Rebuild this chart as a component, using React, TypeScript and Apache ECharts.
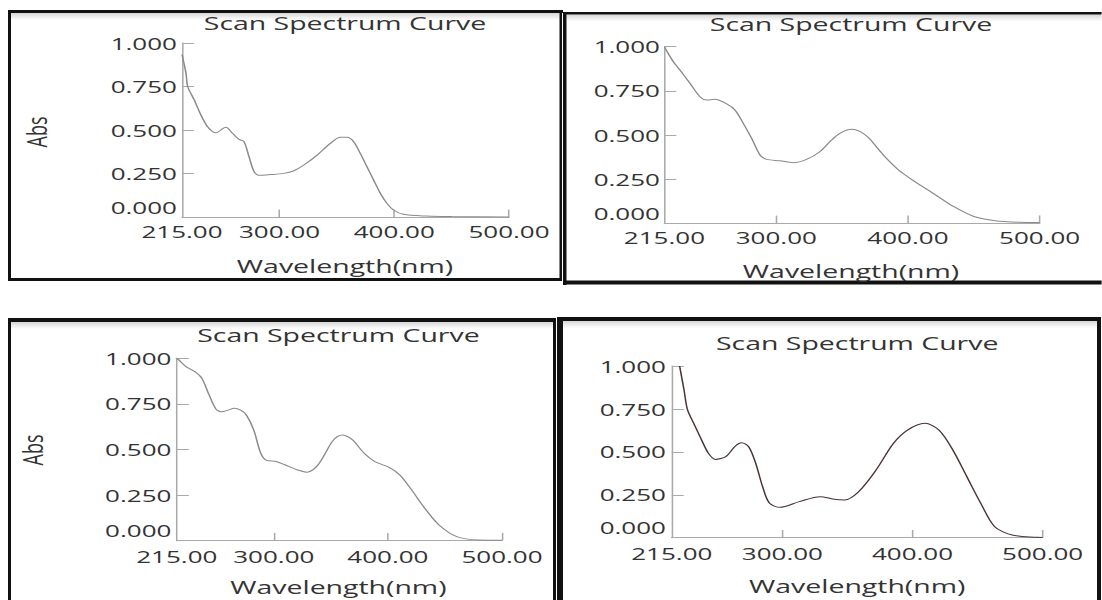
import React, { useEffect, useRef } from "react";
import * as echarts from "echarts";

// The whole figure is laid out in a narrower box and stretched horizontally.
const S = 1.53;
const W = 1102;
const H = 600;

// Sample 1: wavelength (nm) / absorbance
const wl1 = [215, 218.5, 220, 225.7, 231.5, 237.3, 244.5, 253.2, 259, 264.7, 269, 273.4, 277.8, 282, 292, 303.8, 312.5, 321.2, 332.8, 344.3, 353, 358.8, 364.6, 370.4, 376.2, 382, 387.8, 393.6, 399.3, 408, 428, 450, 500];
const abs1 = [0.935, 0.826, 0.749, 0.673, 0.587, 0.52, 0.485, 0.516, 0.482, 0.447, 0.434, 0.348, 0.262, 0.241, 0.245, 0.252, 0.267, 0.3, 0.357, 0.424, 0.459, 0.459, 0.434, 0.367, 0.29, 0.214, 0.138, 0.08, 0.042, 0.017, 0.007, 0.004, 0.002];

// Sample 2
const wl2 = [215, 218, 221.8, 226.8, 234.4, 242, 247.1, 253.4, 262.3, 268.6, 274.9, 281.3, 287.6, 292.7, 302.8, 312.9, 323, 333.1, 340.7, 348, 357.4, 363, 369.3, 376, 382.5, 392.9, 403.5, 419.2, 434.9, 450.7, 466.4, 484.8, 500];
const abs2 = [1.0, 0.96, 0.915, 0.868, 0.793, 0.717, 0.698, 0.702, 0.676, 0.642, 0.566, 0.481, 0.387, 0.362, 0.354, 0.343, 0.362, 0.405, 0.462, 0.508, 0.532, 0.522, 0.49, 0.434, 0.377, 0.302, 0.245, 0.17, 0.094, 0.037, 0.015, 0.006, 0.004];

// Sample 3
const wl3 = [215, 217, 223, 230.8, 237, 243.3, 249.5, 254.2, 260, 265.2, 271, 276, 282.4, 288.6, 293.3, 302.7, 313.6, 321, 329.2, 338.7, 351.1, 356, 360.5, 365.5, 369.9, 379.2, 388.6, 401.1, 410.4, 419.8, 432.3, 444.8, 460.4, 479.2, 500];
const abs3 = [1.0, 0.99, 0.954, 0.927, 0.89, 0.799, 0.72, 0.707, 0.716, 0.726, 0.716, 0.689, 0.607, 0.479, 0.442, 0.433, 0.406, 0.388, 0.375, 0.415, 0.543, 0.572, 0.58, 0.568, 0.548, 0.479, 0.433, 0.402, 0.36, 0.287, 0.178, 0.086, 0.022, 0.004, 0.003];

// Sample 4
const wl4 = [221, 224.4, 227.1, 232.5, 237.9, 243.2, 248.5, 256.6, 263.3, 268.7, 274.1, 279.5, 284.8, 290.2, 298.2, 313, 329, 339.7, 347.8, 358.6, 372, 385.4, 396.2, 409.5, 420.3, 431, 441.8, 452.5, 463.2, 476.6, 495.4, 500];
const abs4 = [1.0, 0.86, 0.744, 0.656, 0.569, 0.491, 0.456, 0.472, 0.53, 0.553, 0.53, 0.433, 0.297, 0.2, 0.177, 0.21, 0.239, 0.224, 0.22, 0.268, 0.394, 0.55, 0.627, 0.666, 0.627, 0.511, 0.355, 0.2, 0.064, 0.016, 0.002, 0.001];

// Axis ticks and labels
const xLabelValues = [215, 300, 400, 500];
const xTickValues = [300, 400, 500];
const xMin = 215;
const xMax = 500;
const yMin = 0;
const yMax = 1;
const yStep = 0.25;

const titleText = "Scan Spectrum Curve";
const xName = "Wavelength(nm)";
const yName = "Abs";

const FONT = "'Open Sans', 'Noto Sans', sans-serif";
const TEXT = "#333333";
const AXIS = "#a9a9a9";

// Panel layout in page pixels (x is converted to the narrow box by S)
const panels = [
  { wl: wl1, abs: abs1, left: 182, right: 509, top: 43, bottom: 217.3, title: [345, 22.7], name: [345, 265.7], absPos: [36, 132], yGap: 5, xGap: 5.5, line: "#8a8a8a", lw: 1 },
  { wl: wl2, abs: abs2, left: 664.4, right: 1039.6, top: 46.7, bottom: 223.3, title: [851, 24], name: [851, 271], absPos: null, yGap: 4.4, xGap: 6, line: "#8a8a8a", lw: 1 },
  { wl: wl3, abs: abs3, left: 176.8, right: 502, top: 358.3, bottom: 540.7, title: [338.4, 335], name: [338.4, 587], absPos: [32, 450], yGap: 5.4, xGap: 7, line: "#8a8a8a", lw: 1 },
  { wl: wl4, abs: abs4, left: 671.8, right: 1042.6, top: 366, bottom: 537.7, title: [857.2, 342.7], name: [857.2, 586], absPos: null, yGap: 5.8, xGap: 7.5, line: "#4a3434", lw: 1 },
];

const bar = (x0: number, y0: number, x1: number, y1: number) => ({
  type: "rect",
  shape: { x: x0 / S, y: y0, width: (x1 - x0) / S, height: y1 - y0 },
  style: { fill: "#111" },
  silent: true,
});

const fade = (x0: number, y0: number, x1: number) => ({
  type: "rect",
  shape: { x: x0 / S, y: y0, width: (x1 - x0) / S, height: 7 },
  style: {
    fill: new echarts.graphic.LinearGradient(0, 0, 0, 1, [
      { offset: 0, color: "rgba(0,0,0,0.16)" },
      { offset: 1, color: "rgba(0,0,0,0)" },
    ]),
  },
  silent: true,
});

const frames = [
  // top-left
  bar(8, 10, 563, 13), bar(8, 10, 11, 281), bar(559.5, 10, 562, 281), bar(8, 278, 562, 281), fade(11, 13, 559.5),
  // top-right
  bar(563, 12, 1102, 14.5), bar(563, 12, 566.5, 285), bar(563, 280.5, 1102, 284.5), fade(566.5, 14.5, 1102),
  // bottom-left
  bar(8, 318, 556, 322), bar(8, 318, 11, 600), bar(553, 318, 556, 600), fade(11, 322, 553),
  // bottom-right
  bar(557, 317, 1101, 321), bar(557, 317, 563, 600), bar(1097, 317, 1101, 600), fade(563, 321, 1097),
];

function buildOption() {
  const grid: any[] = [];
  const xAxis: any[] = [];
  const yAxis: any[] = [];
  const series: any[] = [];
  const texts: any[] = [];

  panels.forEach((p, i) => {
    grid.push({
      left: p.left / S,
      top: p.top,
      width: (p.right - p.left) / S,
      height: p.bottom - p.top,
      containLabel: false,
    });
    xAxis.push({
      type: "value",
      gridIndex: i,
      min: xMin,
      max: xMax,
      splitLine: { show: false },
      axisLine: { show: true, lineStyle: { color: AXIS, width: 1 } },
      axisTick: { show: true, inside: true, length: 7.7, customValues: xTickValues, lineStyle: { color: AXIS } },
      axisLabel: {
        customValues: xLabelValues,
        formatter: (v: number) => v.toFixed(2),
        margin: p.xGap,
        fontSize: 17,
        fontFamily: FONT,
        color: TEXT,
      },
    });
    yAxis.push({
      type: "value",
      gridIndex: i,
      min: yMin,
      max: yMax,
      interval: yStep,
      splitLine: { show: false },
      axisLine: { show: true, lineStyle: { color: AXIS, width: 1 } },
      axisTick: { show: true, inside: true, length: 12 / S, lineStyle: { color: AXIS } },
      axisLabel: {
        margin: p.yGap / S,
        fontSize: 17,
        fontFamily: FONT,
        color: TEXT,
        formatter: (v: number) => (v === 0 ? "{z|" + v.toFixed(3) + "}" : v.toFixed(3)),
        rich: {
          z: { fontSize: 17, fontFamily: FONT, color: TEXT, padding: [0, 0, 20, 0] },
        },
      },
    });
    series.push({
      type: "line",
      xAxisIndex: i,
      yAxisIndex: i,
      data: p.wl.map((w, k) => [w, p.abs[k]]),
      showSymbol: false,
      smooth: 0.3,
      clip: true,
      lineStyle: { color: p.line, width: p.lw },
    });
    texts.push({
      type: "text",
      x: p.title[0] / S,
      y: p.title[1],
      style: { text: titleText, fontSize: 18.6, fontFamily: FONT, fill: TEXT, align: "center", verticalAlign: "middle" },
    });
    texts.push({
      type: "text",
      x: p.name[0] / S,
      y: p.name[1],
      style: { text: xName, fontSize: 18.6, fontFamily: FONT, fill: TEXT, align: "center", verticalAlign: "middle" },
    });
    if (p.absPos) {
      texts.push({
        type: "text",
        x: p.absPos[0] / S,
        y: p.absPos[1],
        rotation: Math.PI / 2,
        style: { text: yName, fontSize: 18, fontFamily: FONT, fill: TEXT, align: "center", verticalAlign: "middle" },
      });
    }
  });

  return {
    animation: false,
    backgroundColor: "#ffffff",
    grid,
    xAxis,
    yAxis,
    series,
    graphic: [...frames, ...texts],
  };
}

export default function App() {
  const ref = useRef<HTMLDivElement>(null);

  useEffect(() => {
    if (!ref.current) return;
    const chart = echarts.init(ref.current, undefined, { renderer: "svg" });
    chart.setOption(buildOption() as any);
    return () => chart.dispose();
  }, []);

  return (
    <div
      ref={ref}
      style={{
        position: "absolute",
        left: 0,
        top: 0,
        width: W / S,
        height: H,
        transform: `scaleX(${S})`,
        transformOrigin: "0 0",
      }}
    />
  );
}
